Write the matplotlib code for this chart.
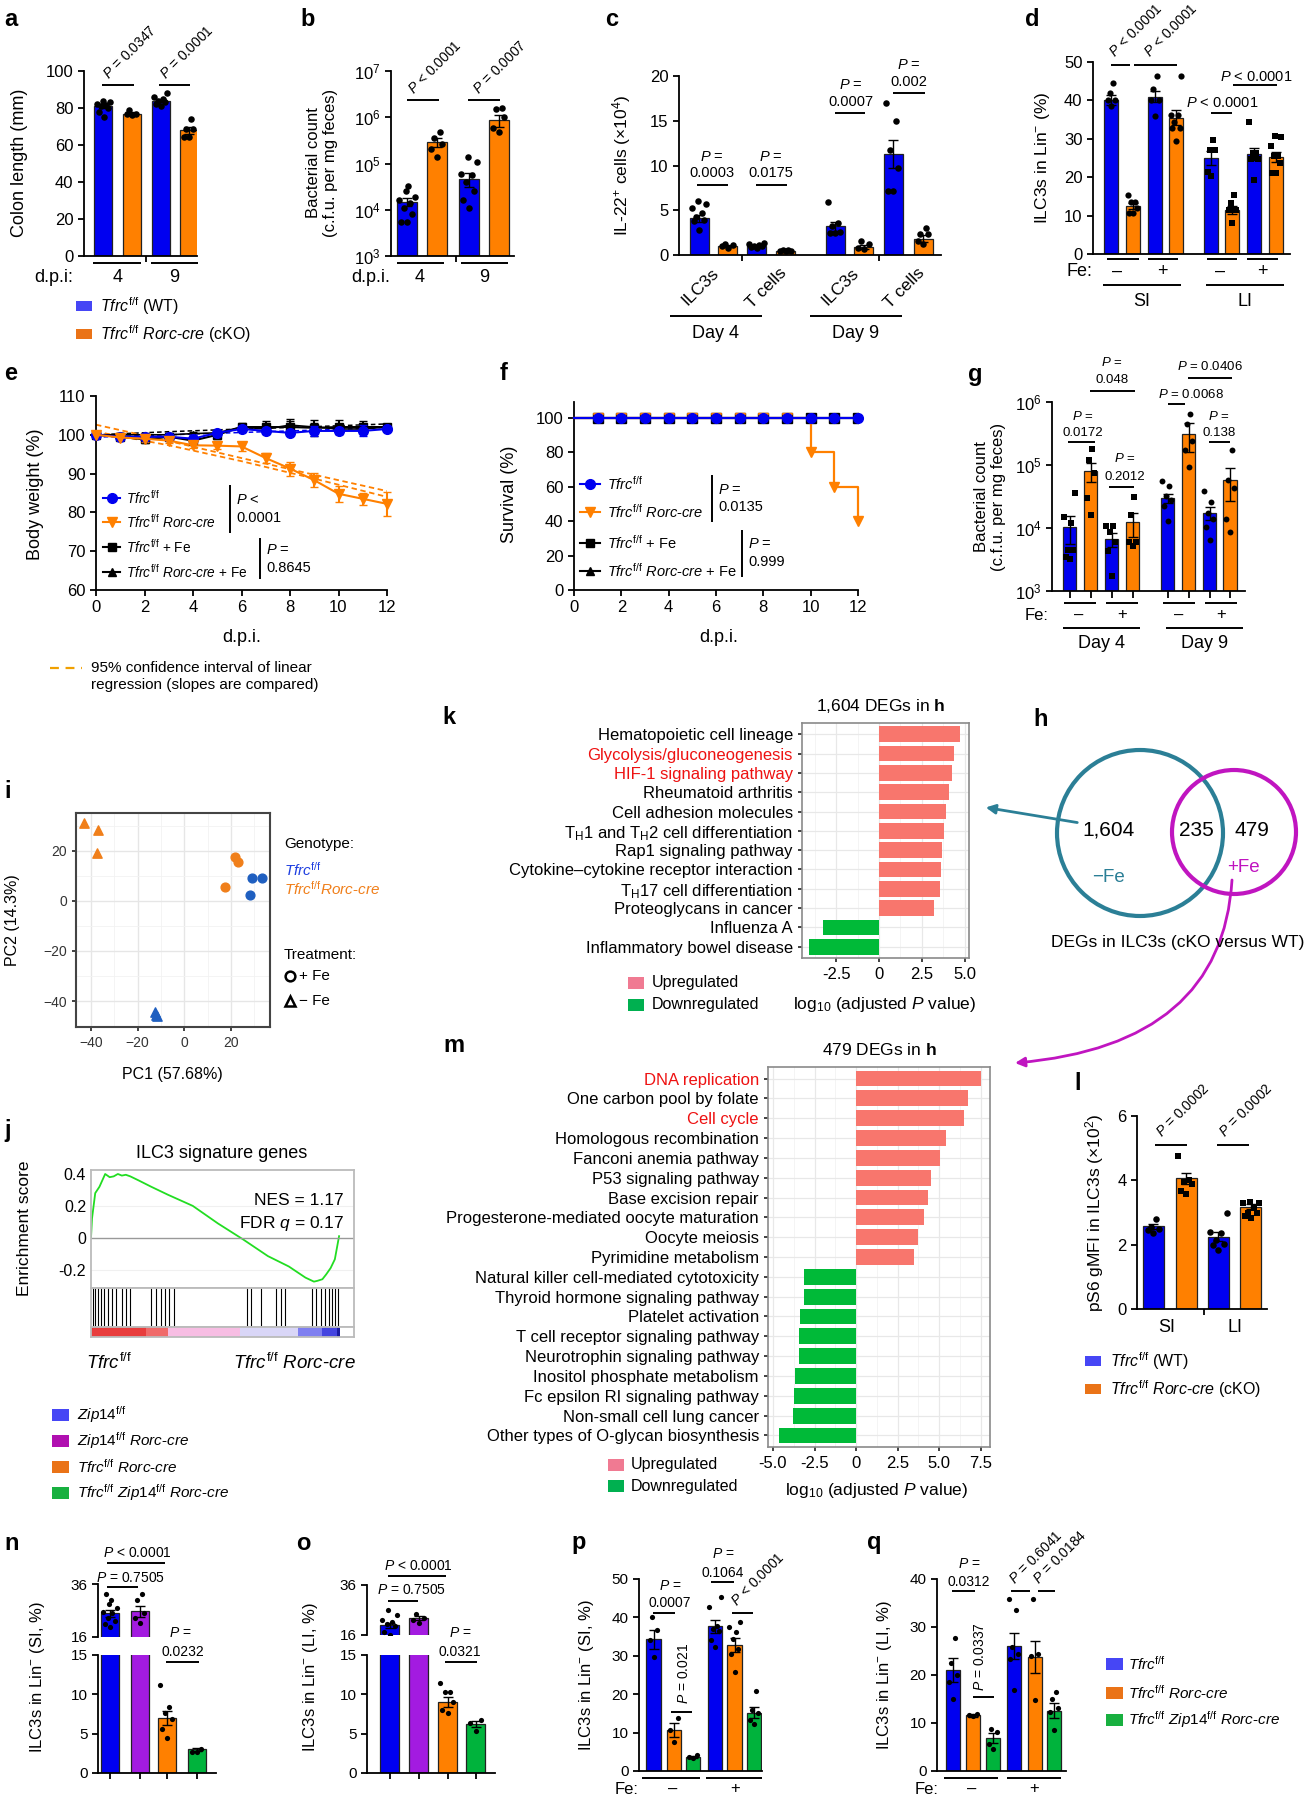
import numpy as np
import matplotlib
matplotlib.use("Agg")
import matplotlib.pyplot as plt
from matplotlib.patches import Circle, FancyArrowPatch, Rectangle
from matplotlib.path import Path

W, H = 1316, 1800
FONT = "Liberation Sans"
plt.rcParams.update({
    "font.family": [FONT, "DejaVu Sans"],
    "mathtext.fontset": "custom",
    "mathtext.rm": FONT,
    "mathtext.it": FONT + ":italic",
    "mathtext.bf": FONT + ":bold",
    "axes.linewidth": 1.3,
    "xtick.major.width": 1.3,
    "ytick.major.width": 1.3,
    "xtick.major.size": 4,
    "ytick.major.size": 4,
    "font.size": 11,
})

BLUE, ORANGE, GREEN, PURPLE = "#0000f0", "#ff8000", "#00b33c", "#a31be0"
BLUE_L, ORANGE_L = "#4646f5", "#ea7317"
UP, DOWN = "#f8766d", "#00ba38"
TEAL, MAGENTA = "#2b7f96", "#c015c0"

TF = r"$\mathit{Tfrc}^{\mathrm{f/f}}$"
ZF = r"$\mathit{Zip14}^{\mathrm{f/f}}$"
RC = r"$\mathit{Rorc}$-$\mathit{cre}$"

# ---------------- data ----------------
# a: colon length (mm)
colon_mean = [81, 77, 84, 68]
colon_sem = [1.0, 0.8, 1.0, 2.0]
colon_pts = [[75, 78, 80, 81, 81.5, 82, 83, 84], [76, 76.5, 77, 78.8],
             [81, 82.4, 83, 84, 85, 86, 88], [64.4, 64.4, 68.9, 68.9, 74.3]]
# b: bacterial count
bact_mean = [1.5e4, 2.9e5, 4.6e4, 8.6e5]
bact_sem = [3e3, 6e4, 1.5e4, 2.5e5]
bact_pts = [[5.5e3, 5.5e3, 8e3, 1.1e4, 1.4e4, 1.6e4, 1.9e4, 2.6e4, 3.2e4],
            [1.4e5, 2.1e5, 2.7e5, 3.5e5, 4.8e5],
            [1.1e4, 1.6e4, 2.5e4, 4e4, 5.6e4, 6e4, 1.1e5, 1.4e5],
            [4.8e5, 6e5, 1.0e6, 1.5e6, 1.6e6]]
# c: IL-22+ cells (x10^4)
il22_mean = [4.1, 1.0, 1.0, 0.5, 3.2, 0.9, 11.3, 1.8]
il22_sem = [0.4, 0.1, 0.1, 0.05, 0.5, 0.2, 1.6, 0.4]
il22_pts = [[2.8, 3.8, 3.9, 4.3, 4.7, 5.2, 5.7, 6.0], [0.8, 1.0, 1.1, 1.2],
            [0.8, 0.9, 1.0, 1.0, 1.1, 1.2, 1.3], [0.4, 0.5, 0.5, 0.6, 0.6],
            [2.5, 2.5, 2.6, 3.2, 3.6, 5.9], [0.7, 0.8, 1.2, 1.6],
            [7.2, 7.2, 9.7, 11.7, 15.0, 17.0], [1.2, 1.6, 2.3, 2.3, 3.0]]
il22_ticks = ["ILC3s", "T cells", "ILC3s", "T cells"]
# d: ILC3s in Lin- (%)
ilc_mean = [40, 12.5, 41, 35.5, 25, 11.5, 26, 25.3]
ilc_sem = [1.3, 0.8, 1.5, 2.0, 1.8, 1.0, 1.5, 1.3]
ilc_pts = [[38.5, 40.2, 40.2, 41.9, 44.5], [10.7, 10.7, 12, 13.5, 13.5, 15.3],
           [35.9, 40.2, 40.2, 43, 46.3], [29.3, 32.8, 32.8, 34.5, 36.3, 36.3, 46.3],
           [20.2, 21.3, 27.2, 27.2, 29.8], [8.2, 11.5, 11.5, 13.3, 15.3],
           [19.4, 24.7, 24.7, 26.3, 26.3, 34.3], [21.1, 21.1, 23.7, 25.4, 25.4, 28, 30.4, 30.8]]
# e: body weight (%)
days = list(range(13))
bw_wt = [100, 99.5, 99.5, 99.5, 99.0, 100.5, 101.5, 101.0, 100.5, 101.0, 101.0, 101.0, 101.5]
bw_wt_sem = [0.5, 0.6, 0.6, 0.6, 1.0, 0.8, 0.8, 0.8, 0.6, 1.2, 0.8, 1.4, 0.6]
bw_ko = [100, 99.3, 99.0, 98.5, 97.3, 97.2, 97.0, 94.0, 91.3, 88.3, 84.8, 83.5, 82.2]
bw_ko_sem = [0.5, 0.6, 0.8, 0.6, 0.8, 0.8, 1.1, 1.3, 1.8, 1.8, 2.0, 1.6, 3.0]
bw_wt_fe = [100, 99.5, 98.8, 99.5, 98.5, 100.0, 102.0, 102.0, 102.0, 101.8, 102.0, 102.0, 102.0]
bw_wt_fe_sem = [0.5, 0.5, 0.8, 0.5, 1.0, 1.0, 1.0, 1.5, 1.5, 2.0, 1.8, 1.5, 0.8]
bw_ko_fe = [100, 100, 100, 100, 100.3, 100.5, 102.0, 101.5, 102.5, 102.0, 101.5, 101.5, 102.0]
bw_ko_fe_sem = [0.5, 0.5, 0.5, 0.5, 0.5, 0.6, 0.8, 1.0, 1.5, 1.0, 1.0, 1.0, 0.8]
ci_days = [0, 3, 6, 9, 12]
ci_ko_hi = [102.6, 98.4, 94.0, 89.7, 85.5]
ci_ko_lo = [100.8, 97.3, 93.2, 88.7, 84.0]
ci_wt = [99.4, 100.0, 100.6, 101.2, 101.9]
ci_fe = [100.0, 100.8, 101.5, 102.1, 102.8]
# f: survival (%)
surv_wt = [100] * 13
surv_ko = [100, 100, 100, 100, 100, 100, 100, 100, 100, 100, 80, 60, 40]
# g: bacterial count +/- Fe
bfe_mean = [1.05e4, 8e4, 6.6e3, 1.23e4, 3.0e4, 3.1e5, 1.75e4, 5.8e4]
bfe_sem = [5e3, 2.7e4, 1.6e3, 5e3, 5e3, 1.5e5, 4e3, 3.1e4]
bfe_pts = [[3.2e3, 3.5e3, 4.5e3, 4.5e3, 1.2e4, 1.5e4, 3.6e4],
           [1.6e4, 3e4, 7.4e4, 1.2e5, 1.8e5],
           [1.7e3, 4.3e3, 6e3, 8.5e3, 1.07e4, 1.07e4],
           [5.2e3, 6e3, 6e3, 1.6e4, 3.1e4],
           [1.3e4, 2.2e4, 2.8e4, 3.2e4, 4.7e4, 5.5e4],
           [9.4e4, 1.7e5, 2.4e5, 4.4e5, 6.5e5],
           [6.4e3, 1.05e4, 1.4e4, 1.7e4, 2.6e4, 3.8e4],
           [8.7e3, 1.4e4, 4.3e4, 5.8e4, 1.7e5]]
# i: PCA
pca_wt_fe = ([29.0, 33.3, 28.0], [9.2, 9.2, 2.4])
pca_ko_fe = ([21.7, 22.8, 17.4], [17.6, 15.6, 5.6])
pca_wt_nofe = ([-12.5, -11.5, -12.0], [-44.4, -46.0, -45.5])
pca_ko_nofe = ([-43.0, -37.0, -37.6], [31.2, 28.4, 19.2])
# k: KEGG, 1,604 DEGs
k_terms = ["Hematopoietic cell lineage", "Glycolysis/gluconeogenesis", "HIF-1 signaling pathway",
           "Rheumatoid arthritis", "Cell adhesion molecules",
           r"T$_{\rm H}$1 and T$_{\rm H}$2 cell differentiation", "Rap1 signaling pathway",
           "Cytokine\u2013cytokine receptor interaction", r"T$_{\rm H}$17 cell differentiation",
           "Proteoglycans in cancer", "Influenza A", "Inflammatory bowel disease"]
k_vals = [4.75, 4.4, 4.25, 4.07, 3.9, 3.8, 3.7, 3.6, 3.55, 3.2, -3.3, -4.1]
k_red = ["Glycolysis/gluconeogenesis", "HIF-1 signaling pathway"]
# m: KEGG, 479 DEGs
m_terms = ["DNA replication", "One carbon pool by folate", "Cell cycle", "Homologous recombination",
           "Fanconi anemia pathway", "P53 signaling pathway", "Base excision repair",
           "Progesterone-mediated oocyte maturation", "Oocyte meiosis", "Pyrimidine metabolism",
           "Natural killer cell-mediated cytotoxicity", "Thyroid hormone signaling pathway",
           "Platelet activation", "T cell receptor signaling pathway", "Neurotrophin signaling pathway",
           "Inositol phosphate metabolism", "Fc epsilon RI signaling pathway",
           "Non-small cell lung cancer", "Other types of O-glycan biosynthesis"]
m_vals = [7.5, 6.7, 6.5, 5.4, 5.05, 4.5, 4.35, 4.1, 3.7, 3.5,
          -3.15, -3.15, -3.4, -3.45, -3.45, -3.65, -3.75, -3.8, -4.65]
m_red = ["DNA replication", "Cell cycle"]
# h: Venn counts
venn_counts = ["1,604", "235", "479"]
# j: GSEA
es_rank = [0, 0.004, 0.017, 0.034, 0.057, 0.075, 0.091, 0.108, 0.124, 0.14, 0.158, 0.191, 0.242,
           0.309, 0.409, 0.51, 0.611, 0.711, 0.795, 0.862, 0.896, 0.91, 0.93, 0.945, 0.963, 0.98, 0.997]
es_val = [0, 0.12, 0.28, 0.32, 0.4, 0.38, 0.385, 0.4, 0.39, 0.395, 0.385, 0.36, 0.32, 0.27, 0.2,
          0.09, -0.01, -0.115, -0.18, -0.25, -0.275, -0.27, -0.26, -0.23, -0.19, -0.135, 0.01]
es_hits = [0.007, 0.017, 0.027, 0.04, 0.054, 0.067, 0.084, 0.101, 0.124, 0.141, 0.158,
           0.242, 0.262, 0.282, 0.299, 0.315, 0.332, 0.628, 0.644, 0.685, 0.745, 0.765, 0.778,
           0.889, 0.906, 0.923, 0.94, 0.956, 0.97, 0.98, 0.993]
es_bands = [(0.0, 0.22, "#e83c3c"), (0.22, 0.31, "#f06a6a"), (0.31, 0.6, "#f7bde3"),
            (0.6, 0.83, "#d9d6f7"), (0.83, 0.93, "#7f7ff0"), (0.93, 0.99, "#4444e0"), (0.99, 1.0, "#1a1aa0")]
# l: pS6 gMFI (x10^2)
ps6_mean = [2.57, 4.06, 2.25, 3.18]
ps6_sem = [0.08, 0.17, 0.13, 0.07]
ps6_pts = [[2.35, 2.45, 2.5, 2.55, 2.8], [3.58, 3.68, 3.9, 3.96, 4.0, 4.76],
           [1.84, 2.0, 2.03, 2.15, 2.36, 2.38, 3.0], [2.83, 2.88, 2.98, 3.0, 3.14, 3.29, 3.3, 3.34]]
# n, o: ILC3s in Lin- with Zip14
n_mean = [24.9, 25.7, 7.0, 3.0]
n_sem = [1.2, 2.0, 0.9, 0.2]
n_pts = [[19.8, 21, 22, 23, 24.9, 25.5, 26.8, 28.4, 29.9, 32.2], [21.3, 23, 25, 29.9, 32.1],
         [4.4, 5.6, 6.9, 7.6, 8.4, 11.2], [2.7, 2.7, 3.1]]
o_mean = [20.0, 22.7, 9.0, 6.2]
o_sem = [1.0, 0.8, 0.6, 0.4]
o_pts = [[16.2, 17.3, 19.6, 20.5, 21.3, 22, 24, 26], [21, 22, 22.7, 24.4],
         [7.6, 8.0, 9.0, 10.3, 10.3, 11.4], [5.4, 6.3, 6.7]]
# p, q: ILC3s in Lin- +/- Fe
p_mean = [34.3, 10.6, 3.7, 37.7, 32.8, 15.2]
p_sem = [2.5, 1.8, 0.2, 1.7, 1.8, 1.5]
p_pts = [[29.7, 34, 36.7, 40], [7.6, 10.6, 13.7], [3.4, 3.7, 4.1],
         [32.3, 34.1, 36.5, 37.1, 37.7, 42.8, 45.2], [25.8, 30.4, 31.9, 34.3, 36.3, 37.6, 38.7],
         [12.3, 13.2, 15, 16, 20.8]]
q_mean = [21.0, 11.6, 6.9, 26.1, 23.8, 12.6]
q_sem = [2.5, 0.3, 1.0, 2.7, 3.3, 1.5]
q_pts = [[14.9, 18.5, 20, 22.4, 27.8], [11.4, 11.6, 11.9], [4.6, 5.7, 8.1, 8.8],
         [16.8, 23.3, 24.4, 25.9, 33.5, 35.8], [14.7, 24, 24.4, 35.8], [8.5, 12.3, 13.2, 15.1, 16.5]]

# ---------------- helpers ----------------
fig = plt.figure(figsize=(W / 100, H / 100), dpi=100)
ov = fig.add_axes([0, 0, 1, 1], zorder=20)
ov.set_xlim(0, W)
ov.set_ylim(H, 0)
ov.axis("off")


def axpx(l, t, r, b):
    return fig.add_axes([l / W, 1 - b / H, (r - l) / W, (b - t) / H])


def T(x, y, s, size=11, ha="center", va="center", **kw):
    ov.text(x, y, s, fontsize=size, ha=ha, va=va, **kw)


def L(x1, x2, y, lw=1.4, color="k"):
    ov.plot([x1, x2], [y, y], color=color, lw=lw, solid_capstyle="butt")


def V(x, y1, y2, lw=1.4):
    ov.plot([x, x], [y1, y2], color="k", lw=lw, solid_capstyle="butt")


def SQ(x, y, color, w=16, h=10):
    ov.add_patch(Rectangle((x, y - h / 2), w, h, color=color, lw=0))


def RT(x, y, s, size=10, rot=45):
    ov.text(x, y, s, fontsize=size, rotation=rot, rotation_mode="anchor", ha="left", va="baseline")


def LETTER(x, y, s):
    T(x, y, s, size=17, ha="left", weight="bold")


def P(s):
    return r"$\mathit{P}$ " + s


def prism(ax, size=12):
    for s in ("top", "right"):
        ax.spines[s].set_visible(False)
    ax.tick_params(direction="out", labelsize=size)


OFFS = np.array([0, -0.5, 0.5, -0.25, 0.25, -0.7, 0.7, -0.1, 0.1, -0.4, 0.4, 0.0])


def bars(ax, xs, means, errs, colors, pts, width, markers="o", s=22, bottom=0, clip=False):
    for i, x in enumerate(xs):
        mk = markers[i] if isinstance(markers, (list, tuple)) else markers
        ax.bar(x, means[i] - bottom, width, bottom=bottom, color=colors[i], edgecolor="#222",
               linewidth=0.9, zorder=2)
        ax.errorbar(x, means[i], yerr=errs[i], color="k", capsize=3.5, elinewidth=1, capthick=1, zorder=3)
        p = np.asarray(pts[i], dtype=float)
        ax.scatter(x + OFFS[:len(p)] * width * 0.55, p, s=s * (0.8 if mk == "s" else 1), color="k",
                   marker=mk, zorder=4, clip_on=clip, linewidths=0)


# ---------------- a ----------------
ax = axpx(84, 71, 197, 256)
prism(ax)
a_x = [103.5, 131.5, 160.5, 188.5]
bars(ax, a_x, colon_mean, colon_sem, [BLUE, ORANGE, BLUE, ORANGE], colon_pts, 18)
ax.set_xlim(84, 197)
ax.set_ylim(0, 100)
ax.set_yticks(range(0, 101, 20))
ax.set_xticks([146], [""])
LETTER(4, 19, "a")
T(20, 163, "Colon length (mm)", size=13, rotation=90)
RT(109, 80, P("= 0.0347"))
RT(166, 80, P("= 0.0001"))
L(102, 134, 85)
L(159, 190, 85)
L(93, 141, 263)
L(151, 198, 263)
T(73, 277, "d.p.i:", size=13, ha="right")
T(118, 277, "4", size=13)
T(174, 277, "9", size=13)
SQ(76, 306, BLUE_L)
SQ(76, 334, ORANGE_L)
T(100, 306, TF + " (WT)", size=11.5, ha="left")
T(100, 334, TF + " " + RC + " (cKO)", size=11.5, ha="left")

# ---------------- b ----------------
ax = axpx(391, 71, 514, 256)
prism(ax)
ax.set_yscale("log")
b_x = [407, 437, 469, 499]
bars(ax, b_x, bact_mean, bact_sem, [BLUE, ORANGE, BLUE, ORANGE], bact_pts, 20, bottom=1e3)
ax.set_ylim(1e3, 1e7)
ax.minorticks_off()
ax.set_xlim(391, 514)
ax.set_xticks([456], [""])
LETTER(300, 19, "b")
T(322, 163, "Bacterial count\n(c.f.u. per mg feces)", size=12, rotation=90, linespacing=1.15)
RT(414, 95, P("< 0.0001"))
RT(479, 95, P("= 0.0007"))
L(407, 439, 100)
L(468, 500, 100)
L(397, 444, 263)
L(461, 508, 263)
T(390, 277, "d.p.i.", size=13, ha="right")
T(420, 277, "4", size=13)
T(484, 277, "9", size=13)

# ---------------- c ----------------
ax = axpx(679, 76, 941, 255)
prism(ax)
c_x = [699, 727.5, 756.5, 785.5, 835, 863.5, 893, 923]
bars(ax, c_x, il22_mean, il22_sem, [BLUE, ORANGE] * 4, il22_pts, 19)
ax.set_xlim(679, 941)
ax.set_ylim(0, 20)
ax.set_yticks(range(0, 21, 5))
ax.set_xticks([742, 879], ["", ""])
LETTER(605, 19, "c")
T(622, 165, r"IL-22$^{+}$ cells (×10$^{4}$)", size=12.5, rotation=90)
for xa, lab in zip([711, 779, 851, 917], il22_ticks):
    ov.text(xa, 265, lab, fontsize=12.5, rotation=45, rotation_mode="anchor", ha="right", va="top")
for xc, y1, y2, yb, xl, xr, pv in [(712, 157, 173, 185, 697, 728, "0.0003"),
                                   (771, 157, 173, 185, 756, 787, "0.0175"),
                                   (851, 85, 102, 113, 835, 865, "0.0007"),
                                   (909, 65, 82, 93, 893, 925, "0.002")]:
    T(xc, y1, P("="), size=10.5)
    T(xc, y2, pv, size=10.5)
    L(xl, xr, yb)
L(670, 762, 316)
L(810, 902, 316)
T(716, 333, "Day 4", size=13)
T(856, 333, "Day 9", size=13)

# ---------------- d ----------------
ax = axpx(1093, 62, 1290, 254)
prism(ax)
d_x = [1111.5, 1133, 1155, 1176, 1211.5, 1232.5, 1254.5, 1276]
bars(ax, d_x, ilc_mean, ilc_sem, [BLUE, ORANGE] * 4, ilc_pts, 14, markers=["o"] * 4 + ["s"] * 4, s=20)
ax.set_xlim(1093, 1290)
ax.set_ylim(0, 50)
ax.set_yticks(range(0, 51, 10))
ax.set_xticks([])
LETTER(1025, 20, "d")
T(1042, 158, r"ILC3s in Lin$^{-}$ (%)", size=12.5, rotation=90)
RT(1115, 58, P("< 0.0001"))
RT(1150, 58, P("< 0.0001"))
L(1111, 1130, 65)
L(1134, 1177, 65)
T(1222, 103, P("< 0.0001"), size=10.5)
L(1211, 1232, 113)
T(1256, 77, P("< 0.0001"), size=10.5)
L(1233, 1277, 85)
T(1092, 272, "Fe:", size=13, ha="right")
for xs_, sg in zip([1117, 1162, 1220, 1262], ["\u2013", "+", "\u2013", "+"]):
    T(xs_, 271, sg, size=13)
for xl, xr in [(1107, 1139), (1148, 1178), (1207, 1237), (1247, 1278)]:
    L(xl, xr, 259)
L(1103, 1181, 285)
L(1206, 1284, 285)
T(1142, 302, "SI", size=13)
T(1245, 302, "LI", size=13)

# ---------------- e ----------------
ax = axpx(96, 396, 387, 590)
prism(ax)
ax.plot(ci_days, ci_wt, ls=(0, (3, 2)), color=BLUE, lw=1.1, zorder=1)
ax.plot(ci_days, ci_fe, ls=(0, (3, 2)), color="k", lw=1.1, zorder=1)
ax.plot(ci_days, ci_ko_hi, ls=(0, (3, 2)), color=ORANGE, lw=1.3, zorder=1)
ax.plot(ci_days, ci_ko_lo, ls=(0, (3, 2)), color=ORANGE, lw=1.3, zorder=1)
ax.errorbar(days, bw_ko_fe, yerr=bw_ko_fe_sem, color="k", marker="^", ms=5, lw=1.2, capsize=3, zorder=2, clip_on=False)
ax.errorbar(days, bw_wt_fe, yerr=bw_wt_fe_sem, color="k", marker="s", ms=6, lw=1.5, capsize=3, zorder=2, clip_on=False)
ax.errorbar(days, bw_wt, yerr=bw_wt_sem, color=BLUE, marker="o", ms=7, lw=1.5, capsize=3, zorder=3, clip_on=False)
ax.errorbar(days, bw_ko, yerr=bw_ko_sem, color=ORANGE, marker="v", ms=7, lw=1.5, capsize=3, zorder=3, clip_on=False)
ax.set_xlim(0, 12)
ax.set_ylim(60, 110)
ax.set_xticks(range(0, 13, 2))
ax.set_yticks(range(60, 111, 10))
LETTER(4, 373, "e")
T(36, 494, "Body weight (%)", size=13, rotation=90)
T(242, 637, "d.p.i.", size=13)
for yy, (c, mk, ms), lab in zip([498, 522, 547, 572],
                                [(BLUE, "o", 7), (ORANGE, "v", 7), ("k", "s", 6), ("k", "^", 6)],
                                [TF, TF + " " + RC, TF + " + Fe", TF + " " + RC + " + Fe"]):
    ov.plot([103, 111.5, 120], [yy] * 3, color=c, lw=1.5, marker=mk, ms=ms, markevery=[1])
    T(126, yy, lab, size=9.8, ha="left")
V(229.6, 485, 533)
T(236, 500, P("<"), size=10.5, ha="left")
T(236, 518, "0.0001", size=10.5, ha="left")
V(259.5, 538, 579)
T(266, 550, P("="), size=10.5, ha="left")
T(266, 568, "0.8645", size=10.5, ha="left")
ov.plot([50, 82], [668, 668], ls=(0, (4, 3)), color="#f0a000", lw=1.6)
T(91, 668, "95% confidence interval of linear", size=11, ha="left")
T(91, 685, "regression (slopes are compared)", size=11, ha="left")

# ---------------- f ----------------
ax = axpx(574, 402, 858, 590)
prism(ax)
ax.plot(days, surv_wt, drawstyle="steps-post", color="k", marker="^", ms=6, markevery=slice(1, None), zorder=2)
ax.plot(days, surv_wt, drawstyle="steps-post", color="k", marker="s", ms=7, markevery=slice(1, None), zorder=2)
ax.plot(days, surv_ko, drawstyle="steps-post", color=ORANGE, lw=1.6, marker="v", ms=7,
        markevery=slice(1, None), zorder=3, clip_on=False)
ax.plot(days, surv_wt, drawstyle="steps-post", color=BLUE, lw=1.6, marker="o", ms=7,
        markevery=slice(1, None), zorder=4, clip_on=False)
ax.set_xlim(0, 12)
ax.set_ylim(0, 109.3)
ax.set_xticks(range(0, 13, 2))
ax.set_yticks(range(0, 101, 20))
LETTER(500, 373, "f")
T(509, 494, "Survival (%)", size=13, rotation=90)
T(719, 637, "d.p.i.", size=13)
for yy, (c, mk, ms), lab in zip([484, 512, 543, 571],
                                [(BLUE, "o", 7), (ORANGE, "v", 7), ("k", "s", 6), ("k", "^", 6)],
                                [TF, TF + " " + RC, TF + " + Fe", TF + " " + RC + " + Fe"]):
    ov.plot([580, 590, 600], [yy] * 3, color=c, lw=1.5, marker=mk, ms=ms, markevery=[1])
    T(607, yy, lab, size=10.5, ha="left")
V(712, 475, 522)
T(718, 490, P("="), size=10.5, ha="left")
T(718, 507, "0.0135", size=10.5, ha="left")
V(742, 530, 577)
T(748, 544, P("="), size=10.5, ha="left")
T(748, 562, "0.999", size=10.5, ha="left")

# ---------------- g ----------------
ax = axpx(1052, 402, 1245, 591)
prism(ax)
ax.set_yscale("log")
g_x = [1069.5, 1090.5, 1111.5, 1132.5, 1167.5, 1188.5, 1209.5, 1230]
bars(ax, g_x, bfe_mean, bfe_sem, [BLUE, ORANGE] * 4, bfe_pts, 13.5,
     markers=["s"] * 4 + ["o"] * 4, s=18, bottom=1e3)
ax.set_ylim(1e3, 1e6)
ax.minorticks_off()
ax.set_xlim(1052, 1245)
ax.set_xticks(g_x, [""] * 8)
ax.tick_params(axis="x", length=5)
LETTER(968, 375, "g")
T(990, 497, "Bacterial count\n(c.f.u. per mg feces)", size=12, rotation=90, linespacing=1.15)
for xc, y1, y2, yb, xl, xr, pv in [(1083, 416, 433, 442, 1068, 1095, "0.0172"),
                                   (1125, 459, 477, 487, 1109, 1134, "0.2012"),
                                   (1219, 416, 433, 442, 1209, 1230, "0.138"),
                                   (1112, 363, 380, 391, 1090, 1135, "0.048")]:
    T(xc, y1, P("="), size=9.5)
    T(xc, y2, pv, size=9.5)
    L(xl, xr, yb)
T(1191, 394, P("= 0.0068"), size=9.5)
L(1168, 1185, 404)
T(1210, 366, P("= 0.0406"), size=9.5)
L(1188, 1232, 378)
T(1048, 616, "Fe:", size=12, ha="right")
for xs_, sg in zip([1079, 1122, 1179, 1221], ["\u2013", "+", "\u2013", "+"]):
    T(xs_, 615, sg, size=12)
for xl, xr in [(1064, 1096), (1106, 1138), (1163, 1195), (1205, 1237)]:
    L(xl, xr, 603)
L(1063, 1140, 628)
L(1166, 1243, 628)
T(1102, 643, "Day 4", size=13)
T(1205, 643, "Day 9", size=13)

# ---------------- i ----------------
ax = axpx(76, 813, 270, 1027)
ax.scatter(*pca_wt_fe, color="#1f5fc0", marker="o", s=40, zorder=3)
ax.scatter(*pca_ko_fe, color="#f07f1a", marker="o", s=40, zorder=3)
ax.scatter(*pca_wt_nofe, color="#1f5fc0", marker="^", s=45, zorder=3)
ax.scatter(*pca_ko_nofe, color="#f07f1a", marker="^", s=45, zorder=3)
ax.set_xlim(-46.4, 36.7)
ax.set_ylim(-50.4, 35.2)
ax.set_xticks([-40, -20, 0, 20])
ax.set_yticks([-40, -20, 0, 20])
ax.set_xticks([-30, -10, 10, 30], minor=True)
ax.set_yticks([-30, -10, 10, 30], minor=True)
ax.grid(True, which="major", color="#e6e6e6", lw=1)
ax.grid(True, which="minor", color="#f2f2f2", lw=0.6)
ax.tick_params(which="minor", length=0)
ax.tick_params(labelsize=10, labelcolor="#333", length=3, color="#333")
ax.set_axisbelow(True)
for s in ax.spines.values():
    s.set_color("#444")
    s.set_linewidth(1.5)
LETTER(4, 792, "i")
T(13, 920, "PC2 (14.3%)", size=11.5, rotation=90)
T(172, 1075, "PC1 (57.68%)", size=11.5)
T(284, 844, "Genotype:", size=11, ha="left")
T(284, 870, TF, size=11, ha="left", color="#1f3fe0")
T(284, 889, TF + RC, size=11, ha="left", color="#f07f1a")
T(284, 955, "Treatment:", size=11, ha="left")
ov.plot([290], [976], marker="o", ms=7, mfc="none", mec="k", mew=1.8)
T(299, 976, "+ Fe", size=11, ha="left")
ov.plot([290], [1001], marker="^", ms=7, mfc="none", mec="k", mew=1.8)
T(299, 1001, "\u2212 Fe", size=11, ha="left")


# ---------------- k and m ----------------
def go_panel(ax, terms, vals, red, nrows, xlim, ticks, minor):
    y = np.arange(len(terms))
    ax.barh(y, vals, height=0.8, color=[UP if v > 0 else DOWN for v in vals], zorder=2)
    ax.set_ylim(nrows - 1 + 0.58, -0.58)
    ax.set_yticks(y, terms, fontsize=12)
    for t in ax.get_yticklabels():
        if t.get_text() in red:
            t.set_color("#ee1111")
    ax.set_xlim(*xlim)
    ax.set_xticks(ticks, [("%.1f" % t) if t != 0 else "0" for t in ticks], fontsize=12)
    ax.set_xticks(minor, minor=True)
    ax.grid(True, which="major", color="#e8e8e8", lw=0.9)
    ax.grid(True, which="minor", axis="x", color="#f3f3f3", lw=0.6)
    ax.tick_params(which="minor", length=0)
    ax.tick_params(length=3, color="#333")
    ax.set_axisbelow(True)
    for s in ax.spines.values():
        s.set_color("#8a8a8a")
        s.set_linewidth(1.2)


ax = axpx(802, 723, 969, 958)
go_panel(ax, k_terms, k_vals, k_red, 12, (-4.5, 5.25), [-2.5, 0, 2.5, 5.0], [-3.75, -1.25, 1.25, 3.75])
LETTER(442, 718, "k")
T(881, 706, r"1,604 DEGs in $\mathbf{h}$", size=12.5)
T(885, 1005, r"log$_{10}$ (adjusted $\mathit{P}$ value)", size=12.5)
SQ(628, 983, "#f07a92", w=16, h=12)
SQ(628, 1005, "#00b050", w=16, h=12)
T(652, 983, "Upregulated", size=11.5, ha="left")
T(652, 1005, "Downregulated", size=11.5, ha="left")

ax = axpx(768, 1067, 990, 1447)
go_panel(ax, m_terms, m_vals, m_red, 19, (-5.3, 8.05), [-5.0, -2.5, 0, 2.5, 5.0, 7.5],
         [-3.75, -1.25, 1.25, 3.75, 6.25])
LETTER(443, 1045, "m")
T(879, 1050, r"479 DEGs in $\mathbf{h}$", size=12.5)
T(877, 1490, r"log$_{10}$ (adjusted $\mathit{P}$ value)", size=12.5)
SQ(608, 1465, "#f07a92", w=16, h=12)
SQ(608, 1486, "#00b050", w=16, h=12)
T(631, 1465, "Upregulated", size=11.5, ha="left")
T(631, 1486, "Downregulated", size=11.5, ha="left")

# ---------------- h (Venn) ----------------
LETTER(1033, 720, "h")
ov.add_patch(Circle((1140, 833), 83, fill=False, ec=TEAL, lw=3))
ov.add_patch(Circle((1234, 832), 62, fill=False, ec=MAGENTA, lw=3))
T(1109, 830, venn_counts[0], size=15)
T(1196, 830, venn_counts[1], size=15)
T(1252, 830, venn_counts[2], size=15)
T(1108, 878, "\u2212Fe", size=13.5, color=TEAL)
T(1243, 868, "+Fe", size=13.5, color=MAGENTA)
T(1178, 942, "DEGs in ILC3s (cKO versus WT)", size=12.5)
ov.add_patch(FancyArrowPatch((1080, 823), (983, 807), arrowstyle="-|>", mutation_scale=14, color=TEAL, lw=2))
curve = Path([(1232, 880), (1222, 1045), (1015, 1063)], [Path.MOVETO, Path.CURVE3, Path.CURVE3])
ov.add_patch(FancyArrowPatch(path=curve, arrowstyle="-|>", mutation_scale=14, color=MAGENTA, lw=2))

# ---------------- j (GSEA) ----------------
ax = axpx(91, 1170, 354, 1288)
ax.plot(es_rank, es_val, color="#22dd22", lw=1.3)
ax.axhline(0, color="#999", lw=1)
ax.set_xlim(0, 1.057)
ax.set_ylim(-0.315, 0.425)
ax.set_yticks([0.4, 0.2, 0, -0.2], ["0.4", "0.2", "0", "-0.2"])
ax.set_xticks([])
ax.tick_params(labelsize=11.5, length=0)
for yg in (0.2, -0.2):
    ax.axhline(yg, color="#f0f0f0", lw=0.8, zorder=0)
for s in ax.spines.values():
    s.set_color("#bbb")
ax.text(0.96, 0.74, "NES = 1.17", transform=ax.transAxes, ha="right", va="center", fontsize=12.5)
ax.text(0.96, 0.55, r"FDR $\mathit{q}$ = 0.17", transform=ax.transAxes, ha="right", va="center", fontsize=12.5)
ax2 = axpx(91, 1288, 354, 1327)
ax2.vlines(es_hits, 0, 1, color="k", lw=0.8)
ax2.set_xlim(0, 1.057)
ax2.set_ylim(0, 1)
ax2.set_xticks([])
ax2.set_yticks([])
for s in ax2.spines.values():
    s.set_color("#bbb")
ax3 = axpx(91, 1327, 354, 1337)
for x0, x1, c in es_bands:
    ax3.axvspan(x0, x1, color=c, lw=0)
ax3.set_xlim(0, 1.057)
ax3.set_xticks([])
ax3.set_yticks([])
for s in ax3.spines.values():
    s.set_color("#bbb")
LETTER(4, 1130, "j")
T(222, 1153, "ILC3 signature genes", size=13)
T(25, 1228, "Enrichment score", size=12.5, rotation=90)
T(109, 1363, TF, size=13.5)
T(294, 1363, TF + " " + RC, size=13.5)
for yy, c, lab in zip([1415, 1441, 1467, 1493], [BLUE_L, "#b010b0", ORANGE_L, "#18b040"],
                      [ZF, ZF + " " + RC, TF + " " + RC, TF + " " + ZF + " " + RC]):
    SQ(52, yy, c, w=17, h=12)
    T(77, yy, lab, size=11, ha="left")

# ---------------- l ----------------
ax = axpx(1137, 1116, 1267, 1309)
prism(ax)
l_x = [1153.5, 1186.5, 1218.5, 1251]
bars(ax, l_x, ps6_mean, ps6_sem, [BLUE, ORANGE, BLUE, ORANGE], ps6_pts, 21,
     markers=["o", "s", "o", "s"], s=22)
ax.set_xlim(1137, 1267)
ax.set_ylim(0, 6)
ax.set_yticks([0, 2, 4, 6])
ax.set_xticks([1204], [""])
LETTER(1074, 1083, "l")
T(1095, 1213, r"pS6 gMFI in ILC3s (×10$^{2}$)", size=12.5, rotation=90)
RT(1162, 1138, P("= 0.0002"))
RT(1225, 1138, P("= 0.0002"))
L(1155, 1187, 1145)
L(1217, 1249, 1145)
T(1167, 1327, "SI", size=13)
T(1235, 1327, "LI", size=13)
SQ(1085, 1361, BLUE_L)
SQ(1085, 1389, ORANGE_L)
T(1110, 1361, TF + " (WT)", size=11.5, ha="left")
T(1110, 1389, TF + " " + RC + " (cKO)", size=11.5, ha="left")


# ---------------- n, o (broken axes) ----------------
def broken(l, r, up_t, up_b, xs, width, means, errs, pts):
    cols = [BLUE, PURPLE, ORANGE, GREEN]
    axu = axpx(l, up_t, r, up_b)
    axl = axpx(l, 1655, r, 1773)
    for a_ in (axu, axl):
        prism(a_, 11)
        bars(a_, xs, means, errs, cols, pts, width, s=14, clip=True)
        a_.set_xlim(l, r)
    axu.set_ylim(16, 36)
    axu.set_yticks([16, 36])
    axu.spines["bottom"].set_visible(False)
    axu.set_xticks([])
    axl.set_ylim(0, 15)
    axl.set_yticks([0, 5, 10, 15])
    axl.set_xticks(xs, [""] * len(xs))


broken(98, 216, 1584, 1637, [110, 139.5, 167, 196.5], 18, n_mean, n_sem, n_pts)
LETTER(4, 1543, "n")
T(38, 1677, r"ILC3s in Lin$^{-}$ (SI, %)", size=12, rotation=90)
T(137, 1553, P("< 0.0001"), size=10)
L(107, 165, 1563)
T(130, 1578, P("= 0.7505"), size=10)
L(107, 138, 1587)
T(180, 1633, P("="), size=10)
T(183, 1652, "0.0232", size=10)
L(166, 199, 1662)

broken(367, 495, 1585, 1635, [389.5, 418.5, 447.5, 475.5], 19, o_mean, o_sem, o_pts)
LETTER(296, 1543, "o")
T(310, 1677, r"ILC3s in Lin$^{-}$ (LI, %)", size=12, rotation=90)
T(418, 1566, P("< 0.0001"), size=10)
L(388, 446, 1576)
T(411, 1590, P("= 0.7505"), size=10)
L(388, 418, 1601)
T(460, 1633, P("="), size=10)
T(460, 1652, "0.0321", size=10)
L(445, 477, 1662)


# ---------------- p, q ----------------
def fe_panel(l, r, xs, width, means, errs, pts, top, step):
    ax_ = axpx(l, 1579, r, 1771)
    prism(ax_, 11)
    bars(ax_, xs, means, errs, [BLUE, ORANGE, GREEN] * 2, pts, width, s=14)
    ax_.set_xlim(l, r)
    ax_.set_ylim(0, top)
    ax_.set_yticks(range(0, top + 1, step))
    ax_.set_xticks([])
    return ax_


fe_panel(639, 762, [653.5, 674, 693, 715, 734.5, 754], 14.5, p_mean, p_sem, p_pts, 50, 10)
LETTER(571, 1543, "p")
T(587, 1675, r"ILC3s in Lin$^{-}$ (SI, %)", size=12, rotation=90)
T(670, 1586, P("="), size=10)
T(670, 1603, "0.0007", size=10)
L(653, 675, 1613)
T(684, 1673, P("= 0.021"), size=10, rotation=90)
L(671, 692, 1712)
T(723, 1554, P("="), size=10)
T(723, 1573, "0.1064", size=10)
L(711, 734, 1582)
RT(737, 1607, P("< 0.0001"))
L(732, 753, 1613)
T(638, 1790, "Fe:", size=12, ha="right")
T(673, 1789, "\u2013", size=12)
T(735, 1789, "+", size=12)
L(642, 700, 1778)
L(706, 762, 1778)

fe_panel(937, 1066, [953, 973, 993, 1014, 1034.5, 1054], 14, q_mean, q_sem, q_pts, 40, 10)
LETTER(867, 1543, "q")
T(885, 1675, r"ILC3s in Lin$^{-}$ (LI, %)", size=12, rotation=90)
T(969, 1564, P("="), size=10)
T(969, 1582, "0.0312", size=10)
L(952, 975, 1591)
T(980, 1657, P("= 0.0337"), size=10, rotation=90)
L(973, 994, 1697)
RT(1015, 1585, P("= 0.6041"))
RT(1039, 1585, P("= 0.0184"))
L(1011, 1030, 1591)
L(1038, 1055, 1591)
T(938, 1790, "Fe:", size=12, ha="right")
T(972, 1789, "\u2013", size=12)
T(1034, 1789, "+", size=12)
L(944, 998, 1778)
L(1007, 1061, 1778)
for yy, c, lab in zip([1664, 1693, 1720], [BLUE_L, ORANGE_L, "#18b040"],
                      [TF, TF + " " + RC, TF + " " + ZF + " " + RC]):
    SQ(1106, yy, c, w=17, h=12)
    T(1128, yy, lab, size=11, ha="left")

fig.savefig("out.png", dpi=100)
